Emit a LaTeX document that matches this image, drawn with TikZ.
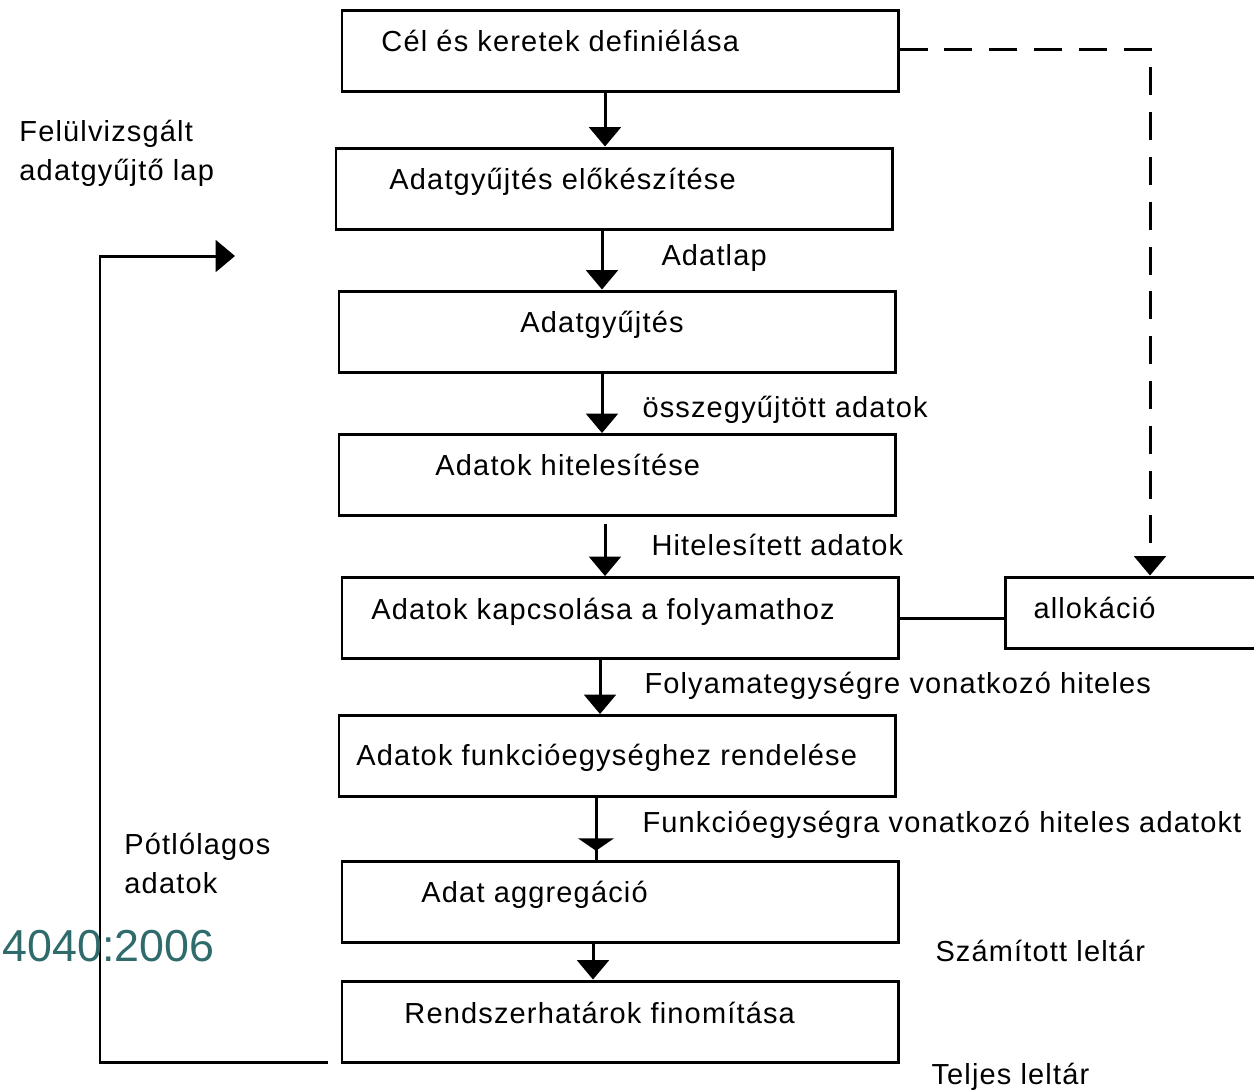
\documentclass[tikz,border=0pt]{standalone}
\usepackage{fontspec}
\setmainfont{Liberation Sans}[LetterSpace=4]
\newfontfamily\isofont{Liberation Sans}
\usetikzlibrary{arrows.meta}
\definecolor{isoteal}{HTML}{2F6B6B}
\begin{document}
\begin{tikzpicture}[x=0.02cm,y=-0.02cm,
  line width=1.7pt,
  stepbox/.style={draw,rectangle,minimum width=556*0.02cm,minimum height=81*0.02cm,inner sep=0pt},
  txt/.style={anchor=west,inner sep=0pt,font=\fontsize{16.5}{19}\selectfont,text height=0.72em,text depth=0.2em},
  arr/.style={-{Triangle[width=18pt,length=11pt]}},
  flat/.style={-{Triangle[width=20pt,length=7pt]}}]
\useasboundingbox (0,0) rectangle (1254,1090);

% process steps
\node[stepbox] (b1) at (620,50.5) {};
\node[stepbox] (b2) at (614,188.5) {};
\node[stepbox] (b3) at (617,331.5) {};
\node[stepbox] (b4) at (617,475) {};
\node[stepbox] (b5) at (620,618) {};
\node[stepbox] (b6) at (617,756) {};
\node[stepbox] (b7) at (620,901.5) {};
\node[stepbox] (b8) at (620,1021.5) {};

\node[txt] at (380,47) {Cél és keretek definiélása};
\node[txt] at (388,185) {Adatgyűjtés előkészítése};
\node[txt] at (519,328) {Adatgyűjtés};
\node[txt] at (434,471) {Adatok hitelesítése};
\node[txt] at (370,615) {Adatok kapcsolása a folyamathoz};
\node[txt] at (355,761) {Adatok funkcióegységhez rendelése};
\node[txt] at (420,898) {Adat aggregáció};
\node[txt] at (403,1019) {Rendszerhatárok finomítása};

% allocation box (open to the right)
\node[inner sep=0pt,minimum width=249*0.02cm,minimum height=71*0.02cm] (al) at (1129.5,612.5) {};
\draw (1300,577) -- (1005,577) -- (1005,648) -- (1300,648);
\node[txt] at (1032,614) {allokáció};

% vertical flow
\coordinate (x1) at (605,0);
\coordinate (x2) at (602,0);
\coordinate (x3) at (602,0);
\coordinate (x4) at (605,0);
\coordinate (x5) at (600,0);
\coordinate (x6) at (596,0);
\coordinate (x7) at (593,0);
\draw[arr] (b1.south -| x1) -- (b2.north -| x1);
\draw[arr] (b2.south -| x2) -- (b3.north -| x2);
\draw[arr] (b3.south -| x3) -- (b4.north -| x3);
\draw[arr] ([yshift=-4pt]b4.south -| x4) -- (b5.north -| x4);
\draw[arr] (b5.south -| x5) -- (b6.north -| x5);
\draw[flat] (b6.south -| x6) -- ([yshift=5pt]b7.north -| x6);
\draw (b6.south -| x6) -- (b7.north -| x6);
\draw[arr] (b7.south -| x7) -- (b8.north -| x7);

% flow labels
\node[txt] at (660,261) {Adatlap};
\node[txt] at (641,413) {összegyűjtött adatok};
\node[txt] at (650,551) {Hitelesített adatok};
\node[txt] at (643,689) {Folyamategységre vonatkozó hiteles};
\node[txt] at (641,828) {Funkcióegységra vonatkozó hiteles adatokt};
\node[txt] at (934,957) {Számított leltár};
\node[txt] at (930,1080) {Teljes leltár};

% allocation links
\coordinate (dc) at (1150,49);
\draw[arr,dash pattern=on 16pt off 9.5pt] (b1.east |- dc) -- (dc) -- (al.north -| dc);
\draw (b5.east) -- (b5.east -| al.west);

% feedback loop
\coordinate (fb) at (328,1062);
\coordinate (fc) at (100,1062);
\coordinate (fd) at (100,256);
\coordinate (fe) at (235,256);
\draw[arr] (fb) -- (fc) -- (fd) -- (fe);

\node[txt,align=left,anchor=north west,text height=,text depth=] at (18,119) {Felülvizsgált\\[3pt]adatgyűjtő lap};
\node[txt,align=left,anchor=north west,text height=,text depth=] at (123,832) {Pótlólagos\\[3pt]adatok};

% standard reference
\node[anchor=west,inner sep=0pt,text=isoteal,font=\isofont\fontsize{25.5}{28}\selectfont] at (1,946) {4040:2006};
\end{tikzpicture}
\end{document}
